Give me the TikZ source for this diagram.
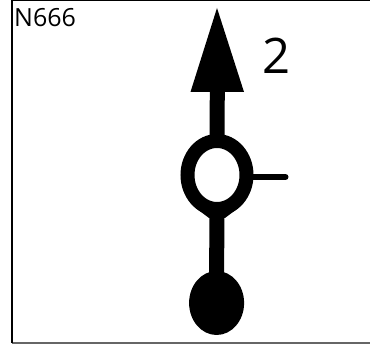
\documentclass[tikz,border=0pt]{standalone}
\usepackage{fontspec}
\setmainfont{Open Sans}
\usetikzlibrary{shapes.geometric}
\definecolor{framegray}{gray}{0.4}
\tikzset{
  x=1pt,y=-1pt,
  frameline/.style={draw=black,line width=2.4pt},
  topline/.style={draw=black,line width=1.2pt},
  bottomline/.style={draw=framegray,line width=1.6pt},
  stem/.style={draw=black,line width=15pt,shorten >=-4pt,shorten <=-4pt},
  thinstem/.style={draw=black,line width=6pt,line cap=round,shorten <=-3pt},
  ring/.style={ellipse,draw=black,line width=14pt,minimum width=59pt,minimum height=68pt,inner sep=0pt,outer sep=0pt},
  blob/.style={ellipse,fill=black,minimum width=55pt,minimum height=64pt,inner sep=0pt,outer sep=0pt},
  tip/.style={fill=black},
  lbl/.style={inner sep=0pt,text=black}
}
\begin{document}
\begin{tikzpicture}
\useasboundingbox (0,0) rectangle (370,344);
\coordinate (fa) at (12,0);
\coordinate (fb) at (12,343);
\coordinate (fc) at (370,343);
\coordinate (fd) at (370,0.6);
\coordinate (fe) at (12,0.6);
\draw[bottomline] (fb) -- (fc);
\draw[topline] (fe) -- (fd);
\draw[frameline] (fa) -- (fb);
\coordinate (tiptop) at (217,8);
\coordinate (tipleft) at (190.5,92);
\coordinate (tipright) at (244,92);
\coordinate (tipbase) at (217.3,92);
\coordinate (sideend) at (285.5,177);
\node[ring] (r) at (217,175) {};
\node[blob] (d) at (216.6,303) {};
\draw[stem] (tipbase) -- (r.north);
\draw[stem] (r.south) -- (d.north);
\draw[thinstem] (r.east |- sideend) -- (sideend);
\fill[tip] (tiptop) -- (tipright) -- (tipleft) -- cycle;
\fill[tip] (197,209) -- (209,218) -- (225,218) -- (237,209) -- cycle;
\node[lbl,anchor=west,font=\fontsize{25}{28}\selectfont] (n) at (14,18) {N666};
\node[lbl,font=\fontsize{49}{56}\selectfont] (two) at (276.5,55.5) {2};
\end{tikzpicture}
\end{document}
